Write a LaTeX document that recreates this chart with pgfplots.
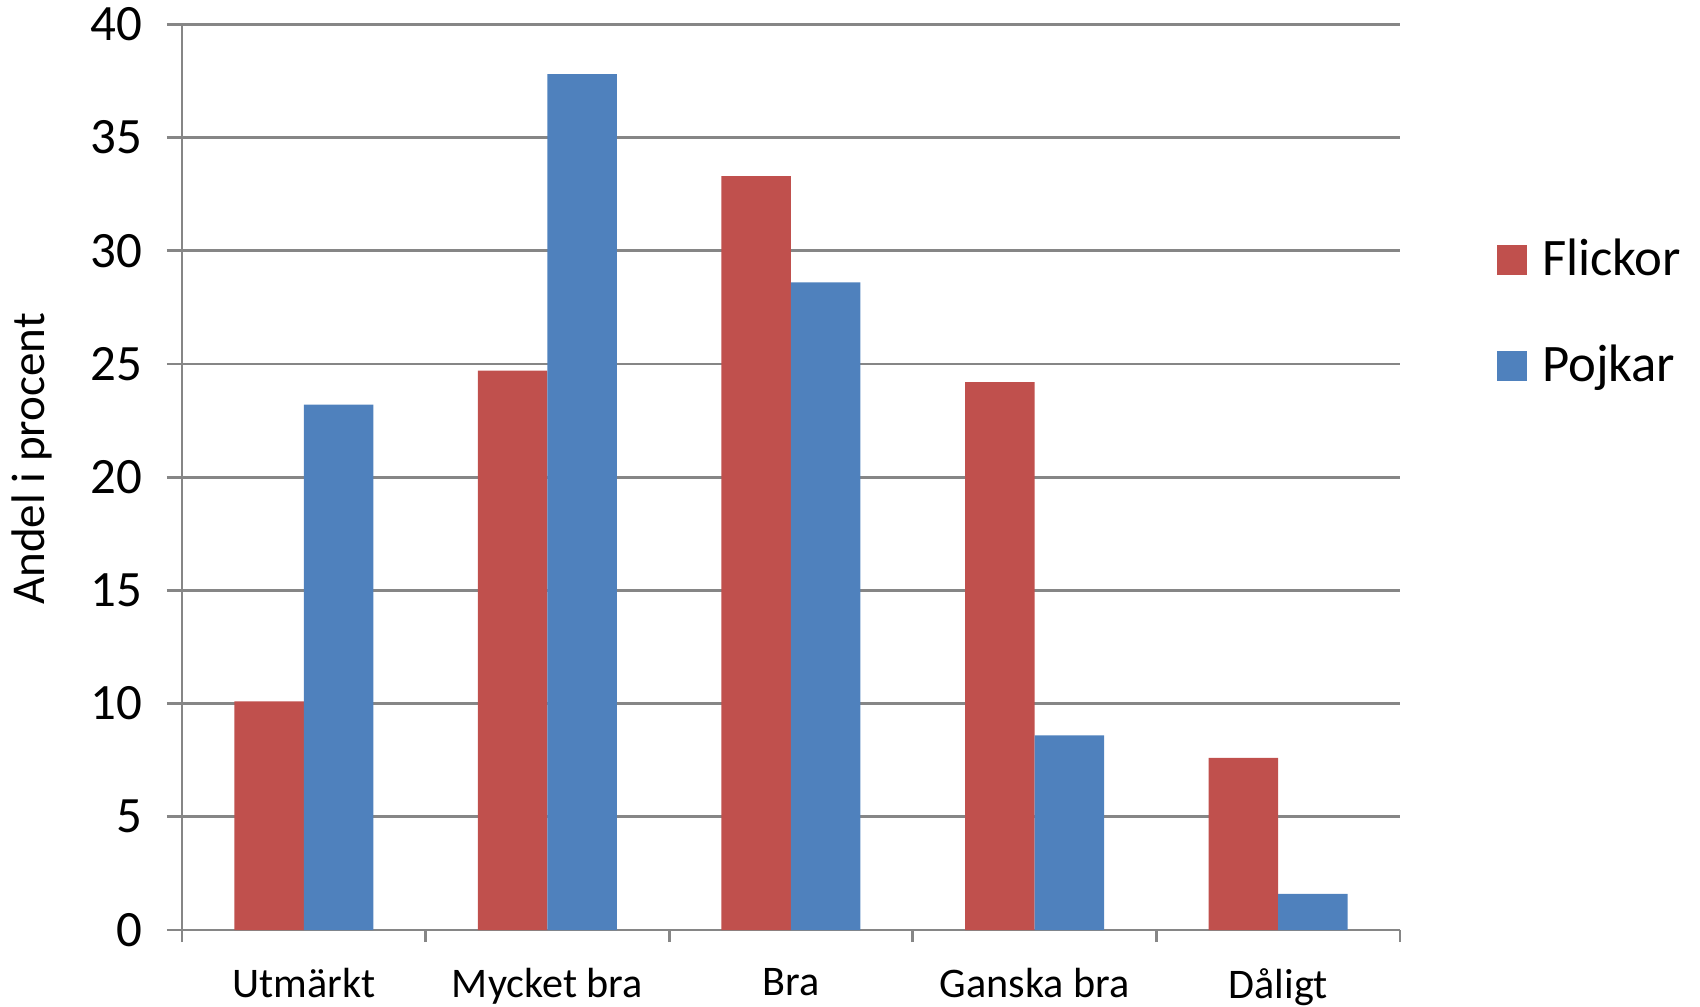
\documentclass[border=0pt]{standalone}
\usepackage{pgfplots}
\pgfplotsset{compat=1.18}
\usepackage{fontspec}
\setmainfont{Carlito}
\definecolor{flick}{HTML}{C0504D}
\definecolor{pojk}{HTML}{4F81BD}
\definecolor{gridc}{HTML}{868686}
\begin{document}
\begin{tikzpicture}
\path[use as bounding box] (-1.82cm,-0.76cm) rectangle (15.18cm,9.30cm);
\begin{axis}[
  at={(0,0)}, anchor=south west,
  scale only axis,
  width=12.18cm, height=9.057cm,
  ymin=0, ymax=40, ytick={0,5,...,40},
  xmin=-0.5, xmax=4.5,
  xtick={0,1,2,3,4},
  xticklabels={Utmärkt,Mycket bra,Bra,Ganska bra,Dåligt},
  minor xtick={-0.5,0.5,1.5,2.5,3.5,4.5},
  major x tick style={draw=none},
  minor tick length=0.12cm,
  major tick length=0.15cm,
  tick align=outside,
  axis x line*=bottom, axis y line*=left,
  axis line style={gridc, line width=0.8pt},
  every tick/.style={gridc, line width=0.8pt},
  ymajorgrids, major grid style={gridc, line width=0.8pt},
  ybar=0pt, bar width=0.695cm,
  /pgf/number format/assume math mode=true,
  yticklabel style={font=\fontsize{14.5}{16}\selectfont, xshift=-0.12cm},
  xticklabel style={font=\fontsize{12}{14}\selectfont, yshift=-0.11cm},
  ylabel={Andel i procent},
  ylabel style={font=\fontsize{13.4}{15}\selectfont, at={(axis description cs:-0.1232,0.52)}, anchor=center},
  legend style={at={(axis description cs:1.0708,0.681)}, anchor=west, draw=none,
    font=\fontsize{15}{17}\selectfont, row sep=0.5cm, cells={anchor=west}},
  legend image code/.code={\fill[#1] (0cm,-0.15cm) rectangle (0.3cm,0.15cm); \path (0.375cm,0cm);},
]
\addplot[fill=flick, draw=none] coordinates {(0,10.1) (1,24.7) (2,33.3) (3,24.2) (4,7.6)};
\addplot[fill=pojk, draw=none] coordinates {(0,23.2) (1,37.8) (2,28.6) (3,8.6) (4,1.6)};
\legend{Flickor,Pojkar}
\end{axis}
\end{tikzpicture}
\end{document}
